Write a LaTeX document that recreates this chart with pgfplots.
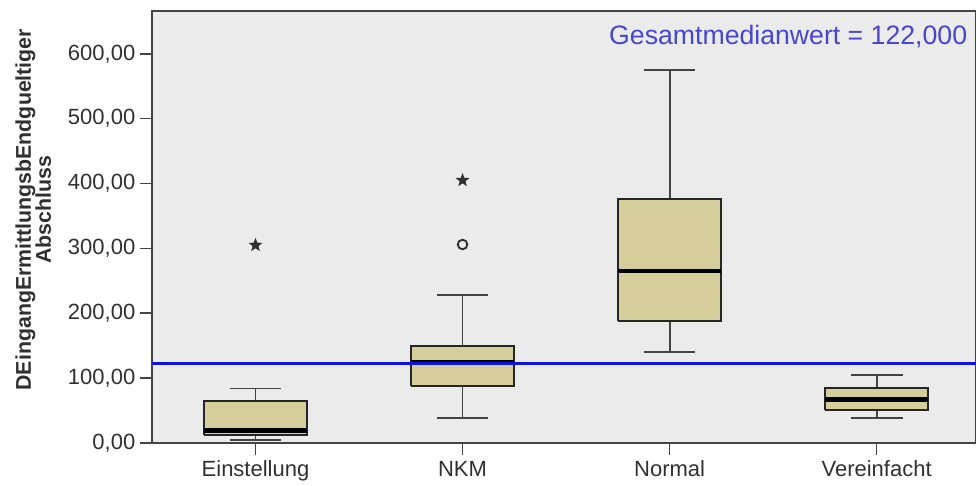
\documentclass[border=0pt]{standalone}
\usepackage{pgfplots}
\pgfplotsset{compat=1.18}
\usepackage{fontspec}
\setmainfont{Liberation Sans}
\definecolor{bggray}{HTML}{EBEBEB}
\definecolor{boxtan}{HTML}{D5CE9A}
\definecolor{framegray}{HTML}{444444}
\definecolor{txtgray}{HTML}{303030}
\definecolor{medblue}{HTML}{1010E0}
\definecolor{lblblue}{HTML}{4646D0}
\pgfdeclareplotmark{fstar}{%
  \pgfpathmoveto{\pgfqpoint{0pt}{5.5pt}}%
  \pgfpathlineto{\pgfqpoint{-1.352pt}{1.861pt}}%
  \pgfpathlineto{\pgfqpoint{-5.231pt}{1.700pt}}%
  \pgfpathlineto{\pgfqpoint{-2.187pt}{-0.711pt}}%
  \pgfpathlineto{\pgfqpoint{-3.233pt}{-4.450pt}}%
  \pgfpathlineto{\pgfqpoint{0pt}{-2.3pt}}%
  \pgfpathlineto{\pgfqpoint{3.233pt}{-4.450pt}}%
  \pgfpathlineto{\pgfqpoint{2.187pt}{-0.711pt}}%
  \pgfpathlineto{\pgfqpoint{5.231pt}{1.700pt}}%
  \pgfpathlineto{\pgfqpoint{1.352pt}{1.861pt}}%
  \pgfpathclose
  \pgfusepathqfill}
% #1 position, #2 lower whisker, #3 lower quartile, #4 median, #5 upper quartile, #6 upper whisker
\newcommand{\bx}[6]{%
  \addplot[framegray, line width=1.4pt, no marks] coordinates {(#1,#2) (#1,#3)};
  \addplot[framegray, line width=1.4pt, no marks] coordinates {(#1,#5) (#1,#6)};
  \addplot[framegray, line width=1.4pt, no marks] coordinates {(#1-0.125,#2) (#1+0.125,#2)};
  \addplot[framegray, line width=1.4pt, no marks] coordinates {(#1-0.125,#6) (#1+0.125,#6)};
  \addplot[draw=black!85, fill=boxtan, line width=1.4pt, no marks, line join=miter] coordinates {(#1-0.25,#3) (#1+0.25,#3) (#1+0.25,#5) (#1-0.25,#5) (#1-0.25,#3)};
  \addplot[black, line width=3.3pt, no marks] coordinates {(#1-0.25,#4) (#1+0.25,#4)};
}
\begin{document}
\begin{tikzpicture}
\begin{axis}[
  name=ax,
  scale only axis,
  width=618pt, height=324pt,
  xmin=-0.5, xmax=3.48,
  ymin=0, ymax=666,
  axis background/.style={fill=bggray},
  axis line style={framegray, line width=1.2pt},
  xtick={0,1,2,3},
  xticklabels={Einstellung,NKM,Normal,Vereinfacht},
  ytick={0,100,200,300,400,500,600},
  tick align=outside,
  major tick length=9pt,
  tick style={framegray, line width=1.2pt},
  xtick pos=bottom, ytick pos=left,
  ticklabel style={font=\fontsize{16.5}{18}\selectfont, text=txtgray},
  xticklabel style={yshift=-1pt},
  yticklabel style={/pgf/number format/.cd, fixed, fixed zerofill, precision=2, use comma, 1000 sep={}, assume math mode=true},
  ylabel={DEingangErmittlungsbEndgueltiger\\Abschluss},
  ylabel style={at={(axis description cs:-0.144,0.54)}, anchor=center, align=center,
    font=\bfseries\fontsize{16}{15}\selectfont, text=txtgray},
  clip=false,
]
\bx{0}{4}{12}{19}{65}{84}
\bx{1}{39}{87.5}{125}{149}{228}
\bx{2}{140}{188}{265}{376}{575}
\bx{3}{39}{51.5}{67}{85}{104.5}
\addplot[only marks, mark=fstar, color=txtgray] coordinates {(0,305) (1,405)};
\addplot[only marks, mark=o, mark size=3.6pt, mark options={line width=1.4pt}, color=txtgray] coordinates {(1,306)};
\addplot[medblue, line width=2.2pt, no marks] coordinates {(-0.5,122) (3.48,122)};
\node[anchor=east, text=lblblue, font=\fontsize{20}{22}\selectfont] at (axis description cs:0.995,0.94) {Gesamtmedianwert = 122,000};
\end{axis}
\pgfresetboundingbox
\path[use as bounding box] ([xshift=-114pt,yshift=-32.25pt]ax.south west) rectangle ([yshift=8.25pt]ax.north east);
\end{tikzpicture}
\end{document}
